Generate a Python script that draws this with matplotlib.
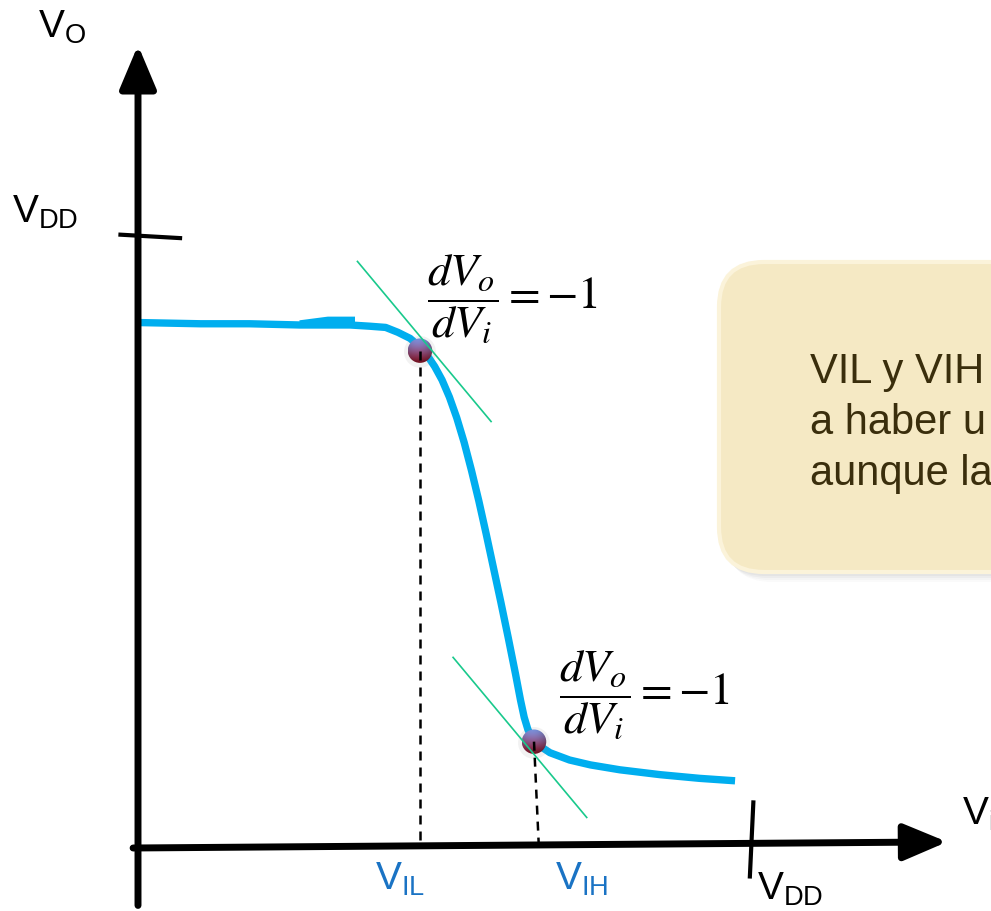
import numpy as np
import matplotlib
matplotlib.use("Agg")
import matplotlib.pyplot as plt
from matplotlib.patches import FancyBboxPatch, Circle

plt.rcParams['font.family'] = ['Liberation Sans', 'DejaVu Sans']
plt.rcParams['mathtext.fontset'] = 'custom'
plt.rcParams['mathtext.rm'] = 'Liberation Sans'
plt.rcParams['mathtext.it'] = 'Liberation Sans:italic'

#data (volts)
VDD = 5.0
vi = [0.00, 0.51, 0.91, 1.32, 1.73, 1.89, 2.02, 2.12, 2.22, 2.30, 2.36, 2.42, 2.48, 2.54,
      2.60, 2.66, 2.72, 2.78, 2.84, 2.90, 2.96, 3.02, 3.08, 3.12, 3.15, 3.18, 3.21, 3.25,
      3.30, 3.36, 3.52, 3.69, 3.93, 4.26, 4.58, 4.87]
vo = [4.30, 4.29, 4.29, 4.28, 4.28, 4.27, 4.26, 4.22, 4.17, 4.10, 4.03, 3.94, 3.83, 3.69,
      3.52, 3.32, 3.09, 2.84, 2.57, 2.29, 2.01, 1.72, 1.42, 1.21, 1.07, 0.97, 0.91, 0.86,
      0.82, 0.78, 0.72, 0.68, 0.64, 0.60, 0.57, 0.55]
# small overlapping stroke left in the drawing
seam_vi = [1.32, 1.55, 1.77]
seam_vo = [4.29, 4.32, 4.32]
# points where dVo/dVi = -1
vil, vo_il = 2.30, 4.07
vih, vo_ih = 3.23, 0.87
# tangent guides (two ends each)
tan_hi_x, tan_hi_y = [1.79, 2.88], [4.80, 3.49]
tan_lo_x, tan_lo_y = [2.57, 3.66], [1.56, 0.25]

W, H = 991, 911
fig = plt.figure(figsize=(W/100, H/100), dpi=100)

# layout layer in pixels (box + labels)
lay = fig.add_axes([0, 0, 1, 1])
lay.set_xlim(0, W)
lay.set_ylim(H, 0)
lay.axis('off')

# data layer: origin at pixel (138, 848), VDD at x=751 / y=237
x0, y0 = 138, 848
sx, sy = 613/VDD, 611/VDD
ax = fig.add_axes([0, 0, 1, 1])
ax.patch.set_alpha(0)
ax.axis('off')

blue = '#00AEEF'
green = '#19C98C'

ax.plot(vi, vo, color=blue, lw=5.3, solid_capstyle='butt', solid_joinstyle='round', zorder=2)
ax.plot(seam_vi, seam_vo, color=blue, lw=5.0, solid_capstyle='butt', zorder=2)

# axes with arrows
arr = dict(arrowstyle='-|>,head_length=1.9,head_width=0.8', lw=5, color='k',
           shrinkA=0, shrinkB=0, mutation_scale=14)
ax.annotate('', xy=(6.60, 0.05), xytext=(-0.04, 0.0), arrowprops=arr)
ax.annotate('', xy=(0.0, 6.57), xytext=(0.0, -0.47), arrowprops=arr)

# VDD ticks
ax.plot([-0.16, 0.36], [VDD + 0.02, VDD - 0.01], color='k', lw=3, solid_capstyle='butt')
ax.plot([VDD + 0.02, VDD - 0.01], [0.39, -0.25], color='k', lw=3, solid_capstyle='butt')

# dashed projections
ax.plot([vil, vil], [vo_il, 0], color='k', lw=1.8, ls=(0, (3.6, 2.8)), zorder=5)
ax.plot([vih, vih + 0.04], [vo_ih, 0], color='k', lw=1.8, ls=(0, (3.6, 2.8)), zorder=5)

# tangents
ax.plot(tan_hi_x, tan_hi_y, color=green, lw=1.2, zorder=6)
ax.plot(tan_lo_x, tan_lo_y, color=green, lw=1.2, zorder=6)

# shaded balls
def ball(cx, cy, r=0.1):
    n = 64
    yy, xx = np.mgrid[1:-1:n*1j, -1:1:n*1j]
    t = ((1 - yy) / 2)[..., None]
    top = np.array([0.50, 0.62, 0.94])
    bot = np.array([0.62, 0.08, 0.16])
    img = top*(1 - t) + bot*t
    shade = 1 - 0.18*((xx + 0.2)**2 + (yy - 0.3)**2)
    img = np.clip(img*shade[..., None], 0, 1)
    ax.add_patch(Circle((cx, cy - 0.01), r*1.3, color='0.5', alpha=0.1, lw=0, zorder=3))
    im = ax.imshow(img, extent=(cx - r, cx + r, cy - r, cy + r), origin='upper',
                   aspect='auto', interpolation='bilinear', zorder=4)
    c = Circle((cx, cy), r, transform=ax.transData)
    im.set_clip_path(c)

ball(vil, vo_il)
ball(vih, vo_ih)

ax.set_xlim(-x0/sx, (W - x0)/sx)
ax.set_ylim(-(H - y0)/sy, y0/sy)

# unity-gain labels
frac = r'$\dfrac{dV_o}{dV_i} = -1$'
lay.text(427, 299, frac, ha='left', va='center', fontsize=33, math_fontfamily='stix')
lay.text(559, 695, frac, ha='left', va='center', fontsize=33, math_fontfamily='stix')

# axis labels
lbl = dict(fontsize=28, va='baseline', ha='left')
lay.text(38, 38, r'$\mathrm{V_O}$', **lbl)
lay.text(12, 223, r'$\mathrm{V_{DD}}$', **lbl)
lay.text(757, 900, r'$\mathrm{V_{DD}}$', **lbl)
lay.text(962, 825, r'$\mathrm{V_i}$', **lbl)
lay.text(375, 890, r'$\mathrm{V_{IL}}$', color='#1A73C4', **lbl)
lay.text(555, 890, r'$\mathrm{V_{IH}}$', color='#1A73C4', **lbl)

# note box
for k, a in enumerate([0.05, 0.05, 0.04, 0.03]):
    lay.add_patch(FancyBboxPatch((719 + 2 + k*2, 262 + 4 + k*2), 420, 310,
                                 boxstyle='round,pad=0,rounding_size=45',
                                 fc='0.4', ec='none', alpha=a, zorder=0))
lay.add_patch(FancyBboxPatch((719, 262), 420, 310, boxstyle='round,pad=0,rounding_size=45',
                             fc='#F5E9C4', ec='#FBF3DA', lw=3, zorder=1))
note = ["VIL y VIH", "a haber u", "aunque la"]
for i, line in enumerate(note):
    lay.text(810, 383 + 51*i, line, fontsize=30, color='#3A2E0C', va='baseline', ha='left', zorder=2)

fig.savefig('out.png', dpi=100)
